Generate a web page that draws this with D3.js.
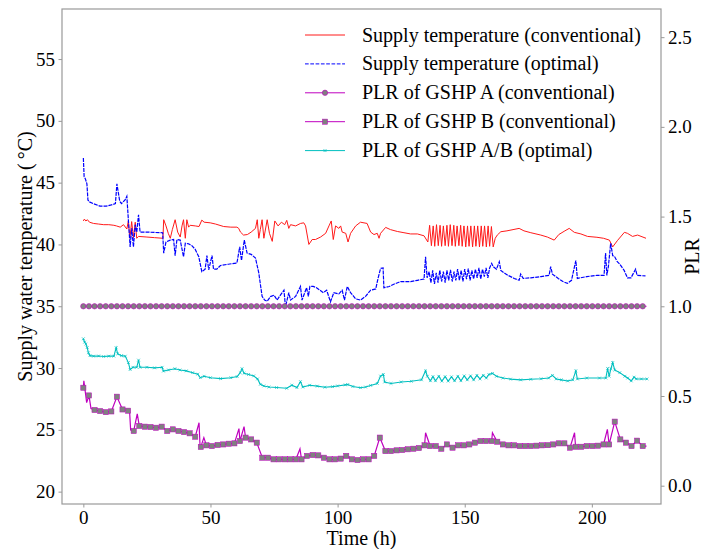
<!DOCTYPE html>
<html>
<head>
<meta charset="utf-8">
<script src="https://cdn.jsdelivr.net/npm/d3@7"></script>
<style>
body { margin: 0; background: #fff; }
text { font-family: "Liberation Serif", "Times New Roman", serif; }
</style>
</head>
<body>
<script>
// ---- data ----
// [time (h), supply temperature (°C)] conventional
var supplyConv = [[0,41.9],[0.4,42.05],[1.0,41.9],[1.6,42.0],[2.4,41.8],[4,41.7],[6,41.65],[8,41.6],[10,41.6],[12,41.55],[13,41.5],[14.5,41.4],[15.8,41.6],[17.1,41.25],[17.7,41.9],[18.3,40.5],[19.0,41.85],[19.7,40.55],[20.4,41.8],[21.0,40.5],[21.7,40.65],[25,40.6],[28,40.55],[31.3,40.5],[31.6,42.0],[32.5,41.5],[33.4,40.9],[34.2,40.5],[35.0,41.2],[36.1,42.0],[37.1,41.0],[38.1,40.6],[38.8,41.5],[39.4,42.0],[40.1,40.5],[40.7,42.0],[41.4,41.4],[42.0,41.55],[44,41.5],[45.5,41.45],[46.6,41.97],[47.5,41.8],[49.9,41.75],[52,41.65],[55.2,41.45],[58,41.4],[60.4,41.4],[61.1,41.3],[61.8,41.0],[63.0,40.76],[64.5,40.8],[66,41.0],[67.7,41.3],[68.4,42.0],[69.0,40.5],[69.6,41.2],[70.3,42.0],[71.0,40.5],[72.3,42.0],[73.2,40.9],[74.3,40.25],[75.3,41.9],[76.6,41.5],[77.9,41.8],[79.2,41.6],[80.0,41.95],[80.8,41.3],[81.5,41.6],[83.5,41.5],[85.4,41.7],[86.7,41.75],[87.4,41.5],[88.7,40.0],[90,40.4],[91.3,40.4],[93.3,40.6],[95.3,40.9],[96.6,41.5],[97.5,41.9],[98.3,40.4],[99.2,41.5],[100.5,41.3],[101.2,41.5],[101.8,41.0],[103.2,40.9],[104.1,40.2],[105.1,40.9],[107.1,41.5],[109.0,41.8],[111.6,41.7],[113,41.0],[114.3,40.8],[115.6,40.9],[116.3,40.5],[116.9,40.9],[118.9,41.38],[120.8,41.2],[123.5,41.05],[126.1,40.95],[128.7,40.85],[131.4,40.85],[134,40.7],[135.5,40.2],
  [136.2,41.55],[136.9,39.9],[137.6,41.5],[138.2,39.85],[138.9,41.6],[139.6,39.9],[140.3,41.55],[140.9,39.85],[141.6,41.5],[142.3,39.9],[143.0,41.55],[143.6,39.85],[144.3,41.6],[145.0,39.9],[145.7,41.55],[146.3,39.85],[147.0,41.5],[147.7,39.9],[148.4,41.55],[149.0,39.85],[149.7,41.5],[150.4,39.8],[151.1,41.5],[151.7,39.85],[152.4,41.5],[153.1,39.8],[153.8,41.5],[154.4,39.85],[155.1,41.5],[155.8,39.8],[156.5,41.5],[157.1,39.85],[157.8,41.5],[158.5,39.8],[159.2,41.5],[159.8,39.85],[160.5,41.45],[161.2,39.8],
  [162.0,40.5],[162.8,40.76],[164.2,41.03],[166.6,41.1],[169,41.2],[171.4,41.3],[173.3,41.1],[176,40.95],[179.9,40.76],[182.5,40.6],[185.2,40.35],[187,40.8],[189.4,41.1],[191.1,41.3],[193.1,40.98],[195.7,40.85],[198.3,40.65],[202,40.58],[204.6,40.5],[206.9,40.35],[208.2,39.8],[210,40.3],[212.8,40.98],[214,40.9],[216,40.65],[218,40.76],[221.3,40.5]];

// [time (h), supply temperature (°C)] optimal
var supplyOpt = [[0,47.0],[0.3,45.5],[0.8,45.3],[1.4,44.9],[1.8,43.6],[2.3,43.45],[4,43.3],[6.5,43.1],[9,43.1],[11,43.2],[12.6,43.3],[13.2,44.9],[14.3,43.5],[15,43.3],[16.4,43.6],[17.1,43.9],[17.7,42.0],[18.4,39.8],[19.0,41.3],[19.7,39.8],[20.4,41.6],[21.0,41.0],[21.7,42.4],[22.3,41.0],[25,41.0],[28,40.97],[31.2,40.95],[31.6,39.3],[32.5,40.2],[34.2,40.35],[35.5,40.4],[36.1,39.1],[36.8,40.4],[38.1,40.35],[39.4,39.0],[40.1,40.1],[41.4,40.05],[42.7,39.9],[44,39.6],[45.4,39.0],[46.6,37.8],[47.9,38.0],[48.6,39.1],[49.3,37.95],[50.6,39.1],[51.2,38.0],[52.5,38.0],[53.9,38.3],[57,38.4],[60.4,38.5],[61.5,39.8],[62.2,38.7],[63.3,40.35],[64.4,39.3],[66,39.2],[67.7,38.9],[69.0,37.7],[70.3,35.8],[71.3,35.5],[72.3,35.4],[73.6,35.78],[75,35.9],[76.2,35.5],[77.5,35.9],[78.9,36.3],[79.5,34.96],[80.8,36.1],[81.5,35.5],[83.5,35.8],[85.4,36.6],[86,35.5],[87.8,36.5],[88.5,35.8],[89.1,36.6],[90.4,36.6],[91.7,36.5],[93,36.3],[94.4,36.1],[95.7,36.3],[97.2,35.36],[98.5,36.1],[100.5,36.0],[101.8,36.3],[102.7,35.5],[103.8,36.6],[105.1,36.1],[107.1,35.6],[109,35.5],[111,35.8],[113,36.3],[115,36.4],[115.9,37.25],[116.9,38.06],[117.9,38.1],[118.2,36.5],[120.3,36.6],[122.3,36.8],[124.8,37.0],[128.7,37.0],[131.4,37.1],[134,37.2],[134.6,39.0],[135.2,37.3],
  [136,37.8],[136.7,36.9],[137.4,37.9],[138.1,36.8],[138.8,37.7],[139.5,36.9],[140.2,37.9],[140.9,37.0],[141.6,37.8],[142.3,36.9],[143,37.9],[143.7,37.1],[144.4,37.95],[145.1,37.0],[145.8,37.8],[146.5,37.1],[147.2,38.0],[147.9,37.1],[148.6,37.9],[149.3,37.0],[150,38.0],[150.7,37.2],[151.4,38.05],[152.1,37.1],[152.8,37.9],[153.5,37.2],[154.2,38.0],[154.9,37.3],[155.6,38.1],[156.3,37.2],[157,38.0],[157.7,37.4],[158.4,38.1],[159.1,37.3],[159.8,38.1],
  [160.6,38.47],[161.2,38.2],[162.5,38.0],[163.6,38.6],[164.2,37.9],[165.5,37.7],[167,37.5],[169.5,37.25],[171.4,37.1],[172,37.6],[173,37.25],[176,37.3],[180,37.4],[183.2,37.5],[183.8,38.2],[184.5,37.6],[186.8,37.25],[188.6,37.0],[190.4,36.85],[192,37.1],[193.7,38.7],[194.3,37.25],[198,37.4],[202,37.5],[204.8,37.5],[205.4,39.3],[205.9,37.5],[206.5,38.2],[207.4,40.1],[208.2,39.1],[209,39.0],[210,38.6],[211,38.4],[212.7,37.9],[214,37.3],[215.4,37.3],[217.2,38.0],[217.8,37.5],[221.1,37.45]];

// marker hours of the conventional PLR curves
var markHours = [0,2.2,4.4,6.6,8.8,11,13.2,15.4,17.6,19.8,22,24.2,26.4,28.6,30.8,33,35.2,37.4,39.6,41.8,44,46.2,48.4,50.6,52.8,55,57.2,59.4,61.6,63.8,66,68.2,70.4,72.6,74.8,77,79.2,81.4,83.6,85.8,88,90.2,92.4,94.6,96.8,99,101.2,103.4,105.6,107.8,110,112.2,114.4,116.6,118.8,121,123.2,125.4,127.6,129.8,132,134.2,136.4,138.6,140.8,143,145.2,147.4,149.6,151.8,154,156.2,158.4,160.6,162.8,165,167.2,169.4,171.6,173.8,176,178.2,180.4,182.6,184.8,187,189.2,191.4,193.6,195.8,198,200.2,202.4,204.6,206.8,209,211.2,213.4,215.6,217.8,220];
// PLR of GSHP A (conventional) stays at full load
var plrALevel = 1.0;
var plrAEnd = 221.5;
// PLR of GSHP B (conventional) at the marker hours
var plrB = [0.546,0.503,0.422,0.416,0.41,0.414,0.496,0.425,0.418,0.305,0.333,0.329,0.327,0.323,0.329,0.305,0.314,0.305,0.299,0.292,0.273,0.216,0.225,0.221,0.227,0.23,0.234,0.236,0.249,0.268,0.258,0.24,0.156,0.156,0.147,0.147,0.147,0.147,0.147,0.147,0.166,0.171,0.169,0.156,0.147,0.147,0.151,0.166,0.147,0.143,0.147,0.147,0.166,0.268,0.193,0.193,0.197,0.199,0.203,0.206,0.21,0.225,0.221,0.221,0.206,0.23,0.212,0.225,0.225,0.23,0.24,0.249,0.249,0.249,0.245,0.23,0.225,0.225,0.221,0.221,0.221,0.223,0.225,0.226,0.23,0.236,0.236,0.212,0.217,0.217,0.221,0.221,0.223,0.23,0.23,0.357,0.258,0.24,0.221,0.251,0.221];
// short spikes of GSHP B between markers [time, PLR]
var plrBSpikes = [[0.2,0.585],[1.3,0.463],[3.0,0.43],[18.2,0.41],[18.6,0.31],[21.2,0.4],[45.5,0.351],[45.9,0.22],[47.4,0.268],[61.2,0.318],[63.2,0.329],[85.2,0.206],[134.6,0.295],[160.9,0.295],[193.2,0.295],[206.1,0.314],[221.5,0.221]];
// [time (h), PLR] of GSHP A/B (optimal)
var plrOpt = [[0,0.819],[0.5,0.8],[1.0,0.79],[1.5,0.77],[2.0,0.741],[2.6,0.725],[4,0.722],[6,0.723],[8,0.72],[10,0.722],[12,0.722],[12.9,0.769],[13.5,0.735],[15,0.725],[16.5,0.722],[17.7,0.686],[18.4,0.648],[19.5,0.66],[21,0.66],[21.7,0.7],[22.3,0.66],[25,0.66],[28,0.657],[31,0.66],[31.5,0.639],[33.5,0.645],[36,0.652],[38,0.645],[40.5,0.64],[43,0.63],[45,0.622],[46,0.602],[47.5,0.61],[50,0.602],[54,0.597],[58,0.602],[60.5,0.608],[61.7,0.63],[62.4,0.652],[63.2,0.627],[65,0.62],[67,0.612],[68.5,0.595],[69.6,0.565],[71,0.556],[73,0.55],[76,0.547],[80,0.543],[82,0.56],[84,0.547],[85.4,0.58],[86.3,0.55],[89,0.56],[92,0.555],[95,0.549],[98,0.552],[100,0.556],[103,0.562],[104,0.564],[106,0.553],[109,0.546],[111,0.55],[113,0.559],[115.6,0.57],[116.9,0.611],[118,0.62],[118.5,0.578],[121,0.57],[125,0.578],[129,0.582],[133,0.59],[134.6,0.64],[135.3,0.61],
  [136.5,0.585],[137.5,0.608],[138.5,0.585],[139.8,0.61],[141,0.583],[142.3,0.608],[143.5,0.583],[144.8,0.607],[146,0.585],[147.3,0.61],[148.5,0.585],[149.8,0.612],[151,0.59],[152.3,0.612],[153.5,0.59],[154.8,0.615],[156,0.595],[157.3,0.615],[158.5,0.6],[159.5,0.62],
  [160.9,0.626],[162.5,0.61],[165,0.6],[168,0.594],[172,0.59],[176,0.593],[180,0.596],[183,0.6],[184.5,0.615],[186,0.595],[188,0.59],[190.5,0.584],[192.5,0.59],[193.7,0.64],[194.3,0.595],[198,0.6],[203,0.6],[205.5,0.6],[206.2,0.654],[206.8,0.61],[207.5,0.652],[208.2,0.686],[209,0.645],[211,0.63],[213,0.61],[214.1,0.6],[215.5,0.584],[216.6,0.605],[217.5,0.595],[219.5,0.595],[221.7,0.595]];

var xTicks = [0, 50, 100, 150, 200];
var tempTicks = [20, 25, 30, 35, 40, 45, 50, 55];
var plrTicks = [0.0, 0.5, 1.0, 1.5, 2.0, 2.5];
var legendLabels = ["Supply temperature (conventional)", "Supply temperature (optimal)",
  "PLR of GSHP A (conventional)", "PLR of GSHP B (conventional)", "PLR of GSHP A/B (optimal)"];

// colours like matplotlib r, b, m, c
var cRed = "#ff1a1a", cBlue = "#0000ff", cMag = "#bf00bf", cCyan = "#00bfbf", cGrey = "#808080";

// ---- layout ----
var margin = {top: 9, right: 45, bottom: 45, left: 62};
var width = 706 - margin.left - margin.right,
    height = 549 - margin.top - margin.bottom;

var svg = d3.select("body").append("svg")
    .attr("width", 706)
    .attr("height", 549);
var plot = svg.append("g")
    .attr("transform", "translate(" + margin.left + "," + margin.top + ")");

var xScale = d3.scaleLinear().domain([-8.4, 227.2]).range([0, width]);
var yLeft = d3.scaleLinear().domain([19, 59.05]).range([height, 0]);
var yRight = d3.scaleLinear().domain([-0.102, 2.657]).range([height, 0]);

// axes
var axisColor = "#999";
function styleAxis(sel) {
  sel.select(".domain").remove();
  sel.selectAll(".tick line").attr("stroke", axisColor);
  sel.selectAll(".tick text").attr("fill", "black").style("font-size", "19px")
     .style("font-family", "'Liberation Serif', serif");
}
plot.append("g")
    .attr("transform", "translate(0," + height + ")")
    .call(d3.axisBottom(xScale).tickValues(xTicks).tickSize(3.5).tickPadding(3.5))
    .call(styleAxis);
plot.append("g")
    .call(d3.axisLeft(yLeft).tickValues(tempTicks).tickSize(3.5).tickPadding(3.5))
    .call(styleAxis);
plot.append("g")
    .attr("transform", "translate(" + width + ",0)")
    .call(d3.axisRight(yRight).tickValues(plrTicks).tickSize(3.5).tickPadding(3.5)
          .tickFormat(d3.format(".1f")))
    .call(styleAxis);

// frame
plot.append("rect")
    .attr("width", width).attr("height", height)
    .attr("fill", "none").attr("stroke", axisColor).attr("stroke-width", 1.2);

// axis labels
svg.append("text")
    .attr("transform", "translate(" + (margin.left + width / 2) + ",545)")
    .attr("text-anchor", "middle").style("font-size", "20px")
    .text("Time (h)");
svg.append("text")
    .attr("transform", "translate(32," + (margin.top + height / 2) + ") rotate(-90)")
    .attr("text-anchor", "middle").style("font-size", "20px")
    .text("Supply water temperature (\u2009°C)");
svg.append("text")
    .attr("transform", "translate(699," + (margin.top + height / 2) + ") rotate(-90)")
    .attr("text-anchor", "middle").style("font-size", "20px")
    .text("PLR");

// ---- lines ----
var lineLeft = d3.line()
    .x(function(d) { return xScale(d[0]); })
    .y(function(d) { return yLeft(d[1]); });
var lineRight = d3.line()
    .x(function(d) { return xScale(d[0]); })
    .y(function(d) { return yRight(d[1]); });

plot.append("path").datum(supplyConv)
    .attr("d", lineLeft).attr("fill", "none")
    .attr("stroke", cRed).attr("stroke-width", 1);
plot.append("path").datum(supplyOpt)
    .attr("d", lineLeft).attr("fill", "none")
    .attr("stroke", cBlue).attr("stroke-width", 1.2)
    .attr("stroke-dasharray", "4,1");

// GSHP A conventional
var plrAPoints = markHours.map(function(t) { return [t, plrALevel]; });
plot.append("path").datum([[0, plrALevel], [plrAEnd, plrALevel]])
    .attr("d", lineRight).attr("fill", "none")
    .attr("stroke", cMag).attr("stroke-width", 1);
plot.append("g").selectAll("circle").data(plrAPoints).enter().append("circle")
    .attr("cx", function(d) { return xScale(d[0]); })
    .attr("cy", function(d) { return yRight(d[1]); })
    .attr("r", 2.7)
    .attr("fill", cGrey).attr("stroke", cMag).attr("stroke-width", 0.6);

// GSHP B conventional: marker points plus spikes between them
var plrBPoints = markHours.map(function(t, i) { return [t, plrB[i]]; });
var plrBLine = plrBPoints.concat(plrBSpikes).sort(function(a, b) { return a[0] - b[0]; });
plot.append("path").datum(plrBLine)
    .attr("d", lineRight).attr("fill", "none")
    .attr("stroke", cMag).attr("stroke-width", 1.2);
plot.append("g").selectAll("rect").data(plrBPoints).enter().append("rect")
    .attr("x", function(d) { return xScale(d[0]) - 2.6; })
    .attr("y", function(d) { return yRight(d[1]) - 2.6; })
    .attr("width", 5.2).attr("height", 5.2)
    .attr("fill", cGrey).attr("stroke", cMag).attr("stroke-width", 0.5);

// GSHP A/B optimal
plot.append("path").datum(plrOpt)
    .attr("d", lineRight).attr("fill", "none")
    .attr("stroke", cCyan).attr("stroke-width", 1.1);
var xMark = d3.symbol().type(d3.symbolX).size(6);
plot.append("g").selectAll("path").data(plrOpt).enter().append("path")
    .attr("transform", function(d) { return "translate(" + xScale(d[0]) + "," + yRight(d[1]) + ")"; })
    .attr("d", xMark)
    .attr("fill", "none").attr("stroke", cCyan).attr("stroke-width", 0.7);

// ---- legend ----
var legend = svg.append("g").attr("transform", "translate(305,35)");
var rowGap = 28.9;
legendLabels.forEach(function(label, i) {
  var row = legend.append("g").attr("transform", "translate(0," + (i * rowGap) + ")");
  var col = [cRed, cBlue, cMag, cMag, cCyan][i];
  var ln = row.append("line").attr("x1", 0).attr("x2", 40).attr("y1", 0).attr("y2", 0)
      .attr("stroke", col).attr("stroke-width", 1);
  if (i === 1) ln.attr("stroke-dasharray", "3.7,1.6");
  if (i === 2) row.append("circle").attr("cx", 20).attr("r", 2.7)
      .attr("fill", cGrey).attr("stroke", cMag).attr("stroke-width", 0.6);
  if (i === 3) row.append("rect").attr("x", 17.4).attr("y", -2.6).attr("width", 5.2).attr("height", 5.2)
      .attr("fill", cGrey).attr("stroke", cMag).attr("stroke-width", 0.5);
  if (i === 4) row.append("path").attr("transform", "translate(20,0)").attr("d", xMark)
      .attr("fill", "none").attr("stroke", cCyan).attr("stroke-width", 0.8);
  row.append("text").attr("x", 57).attr("y", 6.5)
      .style("font-size", "20px").text(label);
});
</script>
</body>
</html>
